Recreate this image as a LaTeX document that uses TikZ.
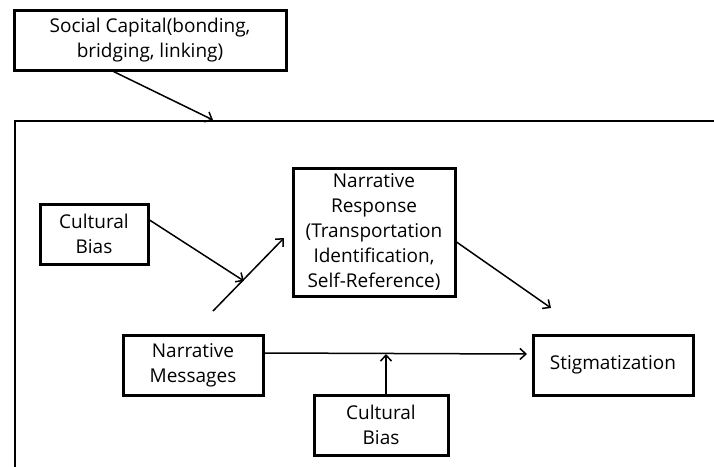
\documentclass[tikz,border=0pt]{standalone}
\usepackage{fontspec}
\setmainfont{Open Sans}
\usetikzlibrary{arrows.meta,calc}
\begin{document}
\begin{tikzpicture}[x=1pt,y=-1pt,
  box/.style={draw=black,line width=3pt,align=center,inner sep=0pt,
    font=\fontsize{19}{25}\selectfont},
  conn/.style={line width=1.5pt,-{Straight Barb[length=6pt,width=11pt,line width=1.5pt]}}]
\useasboundingbox (0,0) rectangle (714,466);
\fill[white] (0,0) rectangle (714,466);
% frame
\draw[line width=2.2pt] (15,467) -- (15,121) -- (715,121);
% nodes
\node[box,minimum width=272pt,minimum height=60pt] (sc) at (150,40) {Social Capital(bonding,\\bridging, linking)};
\node[box,minimum width=108pt,minimum height=60pt] (cb1) at (94,234) {Cultural\\Bias};
\node[box,minimum width=162pt,minimum height=128pt] (nr) at (374,232) {Narrative\\Response\\(Transportation\\Identification,\\Self-Reference)};
\node[box,minimum width=140pt,minimum height=60pt] (nm) at (193,365) {Narrative\\Messages};
\node[box,minimum width=160pt,minimum height=60pt] (st) at (613,365) {Stigmatization};
\node[box,minimum width=134pt,minimum height=60pt] (cb2) at (381,425) {Cultural\\Bias};
% free ends
\coordinate (sctip) at (213,120);
\coordinate (m1) at (244,281);
\coordinate (s1) at (213,311);
\coordinate (e1) at (284,238);
\coordinate (e2) at (551,308);
\coordinate (e3) at (527,354);
\coordinate (e4) at (386,354);
% connectors
\draw[conn] ($(sc.south west)+(101,0)$) -- (sctip);
\draw[conn] ($(cb1.east)+(0,-14)$) -- (m1);
\draw[conn] (s1) -- (e1);
\draw[conn] ($(nr.east)+(0,10)$) -- (e2);
\draw[conn] ($(nm.east)+(0,-12)$) -- (e3);
\draw[conn] (cb2.north -| e4) -- (e4);
\end{tikzpicture}
\end{document}
